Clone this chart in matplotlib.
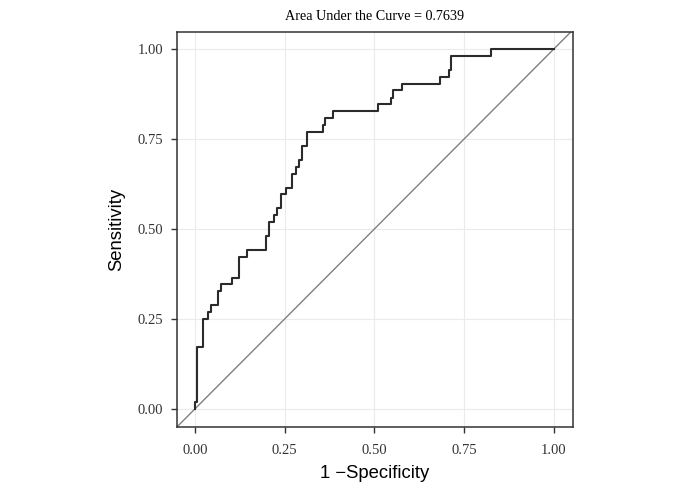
import numpy as np
import matplotlib.pyplot as plt

# ROC step points (false positive rate, sensitivity)
fpr = [0.0, 0.0, 0.0064, 0.0064, 0.0232, 0.0232, 0.0371, 0.0371, 0.0437, 0.0437,
       0.065, 0.065, 0.0715, 0.0715, 0.102, 0.102, 0.123, 0.123, 0.144, 0.144,
       0.198, 0.198, 0.207, 0.207, 0.219, 0.219, 0.229, 0.229, 0.240, 0.240,
       0.255, 0.255, 0.271, 0.271, 0.282, 0.282, 0.291, 0.291, 0.297, 0.297,
       0.312, 0.312, 0.356, 0.356, 0.362, 0.362, 0.384, 0.384, 0.511, 0.511,
       0.546, 0.546, 0.552, 0.552, 0.577, 0.577, 0.682, 0.682, 0.708, 0.708,
       0.713, 0.713, 0.825, 0.825, 1.0]
tpr = [0.0, 0.019, 0.019, 0.173, 0.173, 0.25, 0.25, 0.269, 0.269, 0.288,
       0.288, 0.327, 0.327, 0.346, 0.346, 0.365, 0.365, 0.423, 0.423, 0.442,
       0.442, 0.481, 0.481, 0.519, 0.519, 0.538, 0.538, 0.558, 0.558, 0.596,
       0.596, 0.615, 0.615, 0.654, 0.654, 0.673, 0.673, 0.692, 0.692, 0.731,
       0.731, 0.769, 0.769, 0.788, 0.788, 0.808, 0.808, 0.827, 0.827, 0.846,
       0.846, 0.865, 0.865, 0.885, 0.885, 0.904, 0.904, 0.923, 0.923, 0.942,
       0.942, 0.981, 0.981, 1.0, 1.0]
ticks = [0.0, 0.25, 0.5, 0.75, 1.0]
tick_labels = ["0.00", "0.25", "0.50", "0.75", "1.00"]
auc = 0.7639

fig = plt.figure(figsize=(6.78, 4.93), dpi=100)
ax = fig.add_axes([0.261, 0.134, 0.584, 0.801])

ax.plot(fpr, tpr, color='#2b2b2b', lw=1.5, zorder=3)
ax.plot([-1, 2], [-1, 2], color='#808080', lw=1.0, zorder=2)

ax.set_xlim(-0.05, 1.053)
ax.set_ylim(-0.05, 1.047)
ax.set_xticks(ticks)
ax.set_yticks(ticks)
ax.set_xticklabels(tick_labels, family='Liberation Serif', fontsize=10.5, color='#333333')
ax.set_yticklabels(tick_labels, family='Liberation Serif', fontsize=10.5, color='#333333')
ax.grid(True, color='#ebebeb', lw=0.8)
ax.set_axisbelow(True)
ax.tick_params(axis='x', pad=8)
ax.tick_params(axis='y', pad=6)
ax.tick_params(direction='out', length=4, width=1, color='#333333')
for s in ax.spines.values():
    s.set_color('#333333')
    s.set_linewidth(1.1)

ax.set_xlabel('1 \u2212Specificity', family='Liberation Sans', fontsize=13.3, labelpad=6)
ax.set_ylabel('Sensitivity', family='Liberation Sans', fontsize=13.3, labelpad=9)
ax.set_title('Area Under the Curve = %.4f' % auc, family='Liberation Serif', fontsize=10.2, pad=9)

fig.savefig('out.png', dpi=100)
